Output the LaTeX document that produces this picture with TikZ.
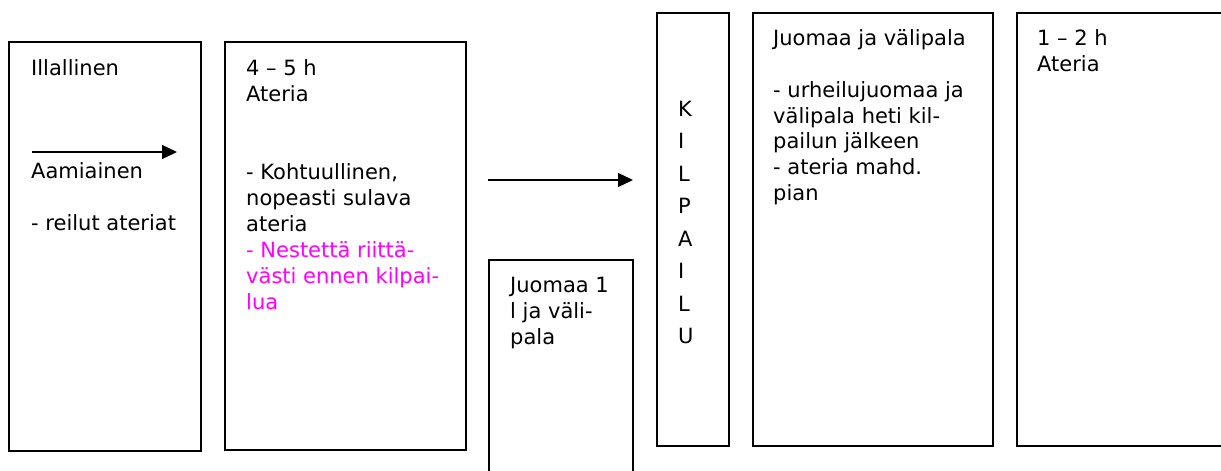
\documentclass[tikz,border=0pt]{standalone}
\usepackage{fontspec}
\setmainfont{DejaVu Sans}
\usetikzlibrary{arrows.meta}
\definecolor{mag}{RGB}{255,0,255}
\tikzset{
  box/.style={draw=black,line width=2pt},
  txt/.style={anchor=base west,inner sep=0pt,font=\fontsize{21}{26}\selectfont},
  arr/.style={line width=1.3pt,-{Triangle[length=15pt,width=14pt]}}
}
\newcommand{\tb}[2]{\parbox[t]{#1}{\raggedright #2}}
\begin{document}
\begin{tikzpicture}[x=1pt,y=-1pt]
\useasboundingbox (0,0) rectangle (1221,471);
\clip (0,0) rectangle (1221,471);
\fill[white] (0,0) rectangle (1221,471);
% boxes
\draw[box] (9,42) rectangle (201,451);
\draw[box] (225,42) rectangle (466,450);
\draw[box] (489,260) rectangle (633,485);
\draw[box] (657,13) rectangle (729,446);
\draw[box] (753,13) rectangle (993,446);
\draw[box] (1017,13) rectangle (1240,446);
% texts
\node[txt] (t1) at (31,75) {Illallinen};
\node[txt] (t1b) at (31,178) {\tb{170pt}{Aamiainen\\[26pt]- reilut ateriat}};
\node[txt] (t2) at (246,75) {\tb{215pt}{4 – 5 h\\Ateria\\[52pt]- Kohtuullinen,\\nopeasti sulava\\ateria\\\textcolor{mag}{- Nestettä riittä-}\\\textcolor{mag}{västi ennen kilpai-}\\\textcolor{mag}{lua}}};
\node[txt] (t3) at (510,292) {\tb{120pt}{Juomaa 1\\l ja väli-\\pala}};
\node[txt,font=\fontsize{21}{32.5}\selectfont] (t4) at (678,116) {\tb{40pt}{K\\I\\L\\P\\A\\I\\L\\U}};
\node[txt] (t5) at (773,45) {\tb{215pt}{Juomaa ja välipala\\[26pt]- urheilujuomaa ja\\välipala heti kil-\\pailun jälkeen\\- ateria mahd.\\pian}};
\node[txt] (t6) at (1037,45) {\tb{170pt}{1 – 2 h\\Ateria}};
% arrows
\coordinate (a1s) at (32,152);
\coordinate (a1e) at (177,152);
\coordinate (a2s) at (488,180);
\coordinate (a2e) at (633,180);
\draw[arr] (a1s) -- (a1e);
\draw[arr] (a2s) -- (a2e);
\end{tikzpicture}
\end{document}
